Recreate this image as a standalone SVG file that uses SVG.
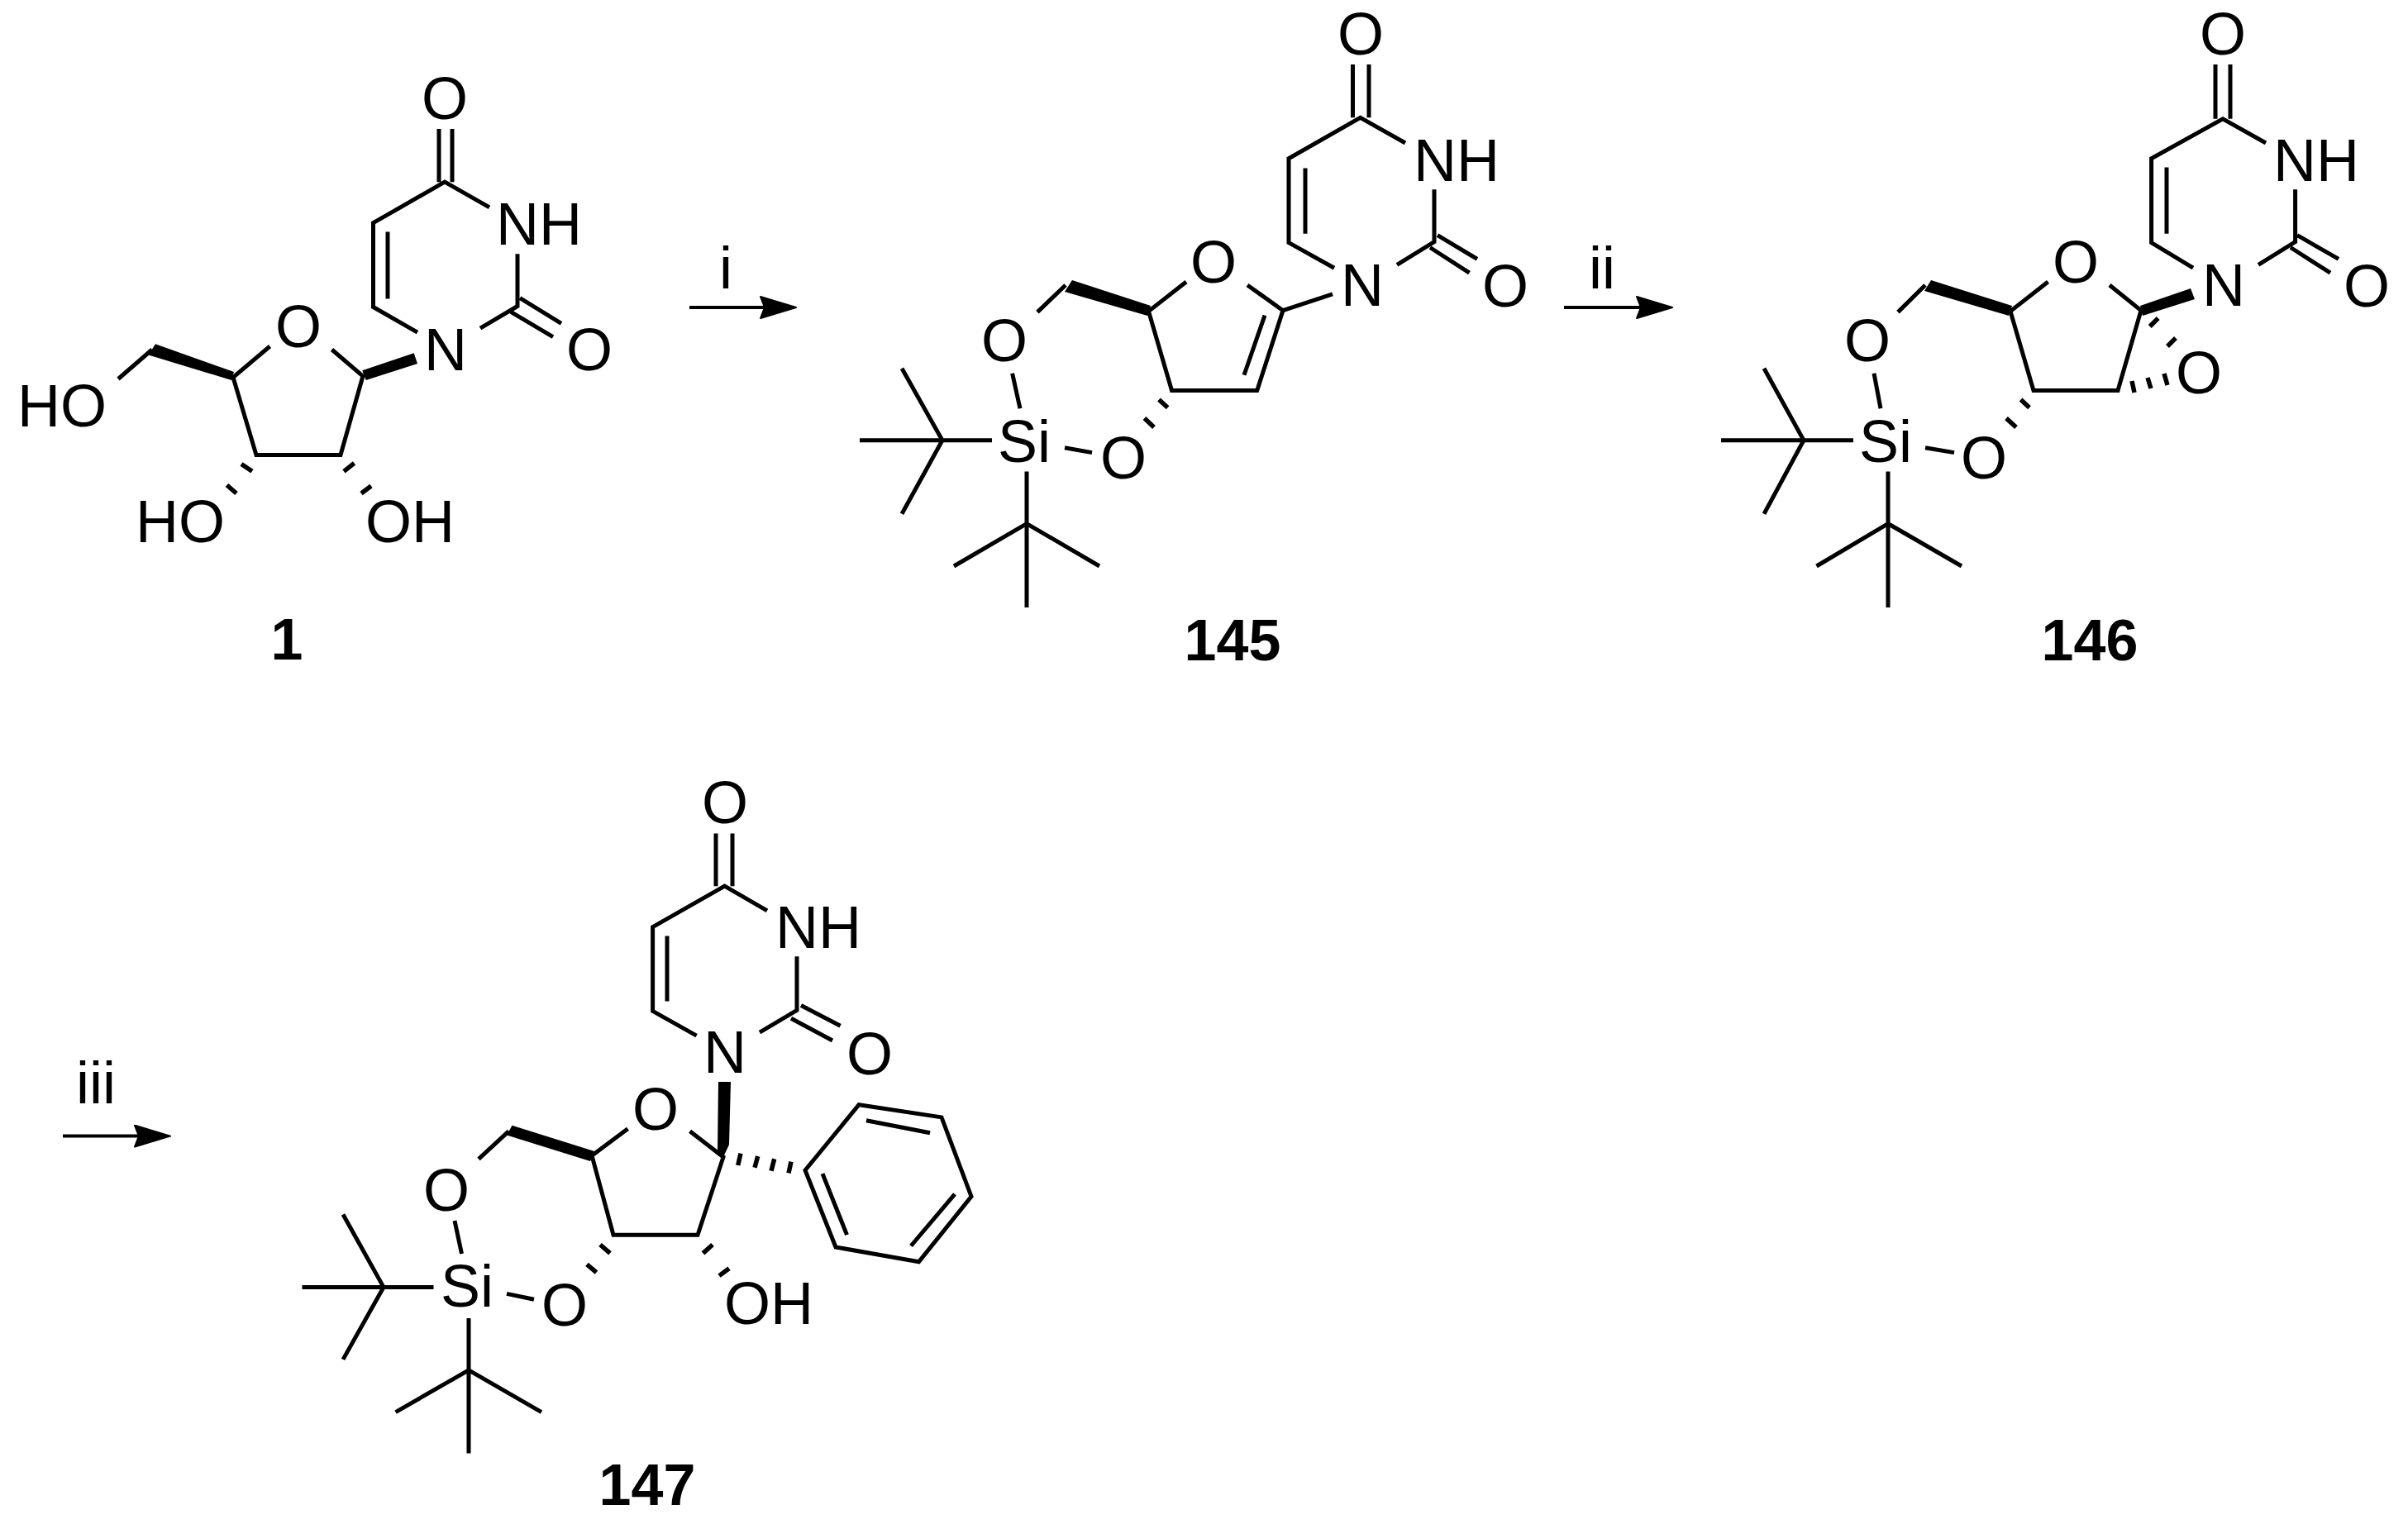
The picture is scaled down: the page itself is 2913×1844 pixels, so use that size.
<svg xmlns="http://www.w3.org/2000/svg" width="2913" height="1844" viewBox="0 0 2913 1844">
<style>
.b{stroke:#000;stroke-width:5;fill:none;stroke-linecap:butt;stroke-linejoin:miter}
.a{stroke:#000;stroke-width:4;fill:none}
.h{stroke:#000;stroke-width:5.5;fill:none}
.w{fill:#000;stroke:none}
text{font-family:"Liberation Sans",Arial,sans-serif;fill:#000;font-size:72px;text-anchor:middle}
.l{font-weight:bold;font-size:70px}
</style>
<defs>
<marker id="ah" markerUnits="userSpaceOnUse" markerWidth="48" markerHeight="30" refX="6" refY="14" orient="auto"><path d="M1 1L44 14L1 27L6 14Z" fill="#000" stroke="#000" stroke-width="2" stroke-linejoin="round"/></marker>
</defs>
<rect width="2913" height="1844" fill="#fff"/>
<g id="connectors">
<path class="a" d="M834 372H925" marker-end="url(#ah)"/>
<path class="a" d="M1892 372H1985" marker-end="url(#ah)"/>
<path class="a" d="M76 1374.6H168" marker-end="url(#ah)"/>
</g>
<g id="compound-1">
<path class="b" d="M531 220.200V155.900M547 220.200V155.900M592 250.900L538 220.200L451.500 269.700V371.500L505 402.200M469 280.500V361.600M626 307.200V370.500L581 397.200M629 360.600L679 391.300M618 377.400L669 407.600M326.500 419L282 456.500L310 550.500H412L439 455L401.500 423M184 423L143 458.500"/>
<path class="w" d="M438.300 448.300L500.700 427.300L505 440L442.700 460ZM283 450L188 416.300L179.600 429.400L280 460Z"/>
<path class="h" d="M292 561.400L305 570.300M274.500 587L286 597M416 570.300L428.500 560.400M437 597L449 588"/>
<text x="538" y="144">O</text><text x="652" y="296.300">NH</text><text x="539" y="447.700">N</text><text x="713" y="447.700">O</text><text x="361" y="420">O</text><text x="75" y="515.900">HO</text><text x="218" y="656.300">HO</text><text x="496" y="656.300">OH</text>
<text class="l" x="347" y="797.700">1</text>
</g>
<g id="label-i"><text x="878" y="349">i</text></g>
<g id="compound-145">
<path class="b" d="M1636.500 142.300V78.100M1656 142.300V78.100M1700 173L1645.600 142.300L1559 191.800V293.600L1614 324.200M1579 203.600V282.700M1735 229.300V292.600L1690 320.300M1739 284.700L1787 313.400M1730 299.500L1777.500 330.200M1435 341L1389.500 376.600L1417.500 472.500H1520.700L1552 375.600L1509 345M1552 375.600L1612 355.900M1530 381.600L1505 453.700M1289 345L1255 377.600M1224.600 451.800L1234 494.300M1288 541.700L1321 547.600M1200 532.800H1040M1091 445.800L1140 532.800L1091 621.800M1242 570.400V735M1154 685L1242 633.600L1330 685"/>
<path class="w" d="M1392 370L1297 339L1288 353L1388 382Z"/>
<path class="h" d="M1402 483.400L1412.600 493.300M1384.500 506.100L1396 517"/>
<text x="1646" y="66.200">O</text><text x="1762" y="218.500">NH</text><text x="1648" y="369.700">N</text><text x="1821" y="370.700">O</text><text x="1468" y="342">O</text><text x="1215" y="436.900">O</text><text x="1239" y="558.500">Si</text><text x="1359" y="579.300">O</text>
<text class="l" x="1491" y="798.700">145</text>
</g>
<g id="label-ii"><text x="1938" y="349">ii</text></g>
<g id="compound-146">
<path class="b" d="M2680 143.800V78.100M2698 143.800V78.100M2741 173L2689 143.800L2602.600 191.800V293.600L2653 324.200M2621 202.600V282.700M2776.600 229.300V292.600L2732 320.300M2779 284.700L2829 313.400M2771 299.500L2819 330.200M2477.500 341L2432 376.600L2460 472.500H2562L2590 375.600L2552 345M2329 345L2296 377.600M2267 451.800L2275 494.300M2329 541.700L2364 547.600M2242 532.800H2082M2134 445.800L2182 532.800L2134 621.800M2284 570.400V735M2197.500 685L2284 633.600L2373 685"/>
<path class="w" d="M2589 370L2650 349L2655 362L2592 382ZM2434 370L2336 339L2328 352L2430 382Z"/>
<path class="h" d="M2444.600 483.400L2455 493.300M2427 506.100L2439 517M2610.700 385L2600.700 395M2632 409L2622 419M2579 461L2582 475M2598 457L2602 470M2618 452L2622 466"/>
<text x="2689" y="66.200">O</text><text x="2802" y="218.500">NH</text><text x="2690" y="369.700">N</text><text x="2863" y="370.700">O</text><text x="2511" y="342">O</text><text x="2259" y="436.900">O</text><text x="2281" y="558.500">Si</text><text x="2400" y="579.300">O</text><text x="2660" y="476">O</text>
<text class="l" x="2528" y="798.700">146</text>
</g>
<g id="label-iii"><text x="116" y="1335">iii</text></g>
<g id="compound-147">
<path class="b" d="M866 1072.200V1008.500M886 1072.200V1008.500M928 1101.900L876.600 1072.200L789.600 1121.600V1223.400L842.600 1253.100M807 1132.500V1211.600M964 1157.200V1222.400L919 1249.100M969 1216.500L1016.600 1241.200M957 1232.300L1007 1259M759.500 1365.700L716 1398.300L742 1494.200H844L875 1400L834.600 1368.700M615.500 1368.700L579 1402.300M550 1477L558.500 1516.900M613 1565.400L646 1572.300M524.500 1557.400H365.500M415 1469.500L464 1557.400L415 1644.900M567 1595V1758.500M478.600 1708.600L567 1657.900L655 1708.600M974 1416L1039 1336.700L1139 1351.900L1175 1447.700L1111.500 1526.800L1011 1509ZM1048 1355.800L1125 1370.700M995 1420.100L1024.500 1494.200M1102 1507.500L1155 1444.800"/>
<path class="w" d="M869 1309H884L882 1385L875 1400L868 1393ZM719 1393L619.500 1361.800L613 1373.600L714 1405Z"/>
<path class="h" d="M726 1506L738 1516.400M710 1529.800L721.500 1539.600M850.500 1516.400L862 1506M870 1543.600L882 1534.700M896 1395.700L892.700 1410M916.700 1399L913 1412.700M936.700 1402.300L933 1416.700M957 1405.700L954 1419.300"/>
<text x="877" y="996.100">O</text><text x="990" y="1147.300">NH</text><text x="877" y="1297.500">N</text><text x="1052" y="1299.500">O</text><text x="793" y="1366.700">O</text><text x="540" y="1464.600">O</text><text x="565" y="1581.200">Si</text><text x="683" y="1603.900">O</text><text x="930" y="1602">OH</text>
<text class="l" x="783" y="1821">147</text>
</g>
</svg>
